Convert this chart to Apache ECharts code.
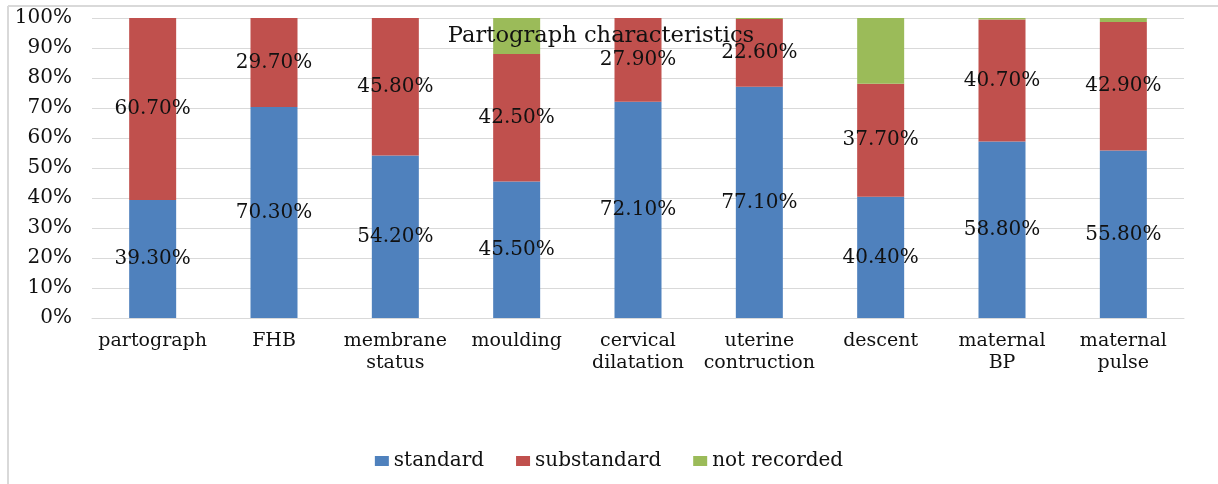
<!DOCTYPE html>
<html>
<head>
<meta charset="utf-8">
<script src="https://cdn.jsdelivr.net/npm/echarts@6/dist/echarts.min.js"></script>
<style>html,body{margin:0;padding:0;background:#fff}#c{width:1218px;height:484px}</style>
</head>
<body>
<div id="c"></div>
<script>
var categories = ['partograph', 'FHB', 'membrane\nstatus', 'moulding', 'cervical\ndilatation', 'uterine\ncontruction', 'descent', 'maternal\nBP', 'maternal\npulse'];
var standard = [39.3, 70.3, 54.2, 45.5, 72.1, 77.1, 40.4, 58.8, 55.8];
var substandard = [60.7, 29.7, 45.8, 42.5, 27.9, 22.6, 37.7, 40.7, 42.9];
var notRecorded = [0, 0, 0, 12.0, 0, 0.3, 21.9, 0.5, 1.3];
var yTicks = { min: 0, max: 100, interval: 10 };

var FONT = 'DejaVu Serif';
var TXT = '#111';
var chart = echarts.init(document.getElementById('c'), null, { renderer: 'canvas' });
function lbl() {
  return {
    show: true, position: 'inside', color: TXT, fontFamily: FONT, fontSize: 20,
    formatter: function (p) { return p.value.toFixed(2) + '%'; }
  };
}
chart.setOption({
  animation: false,
  backgroundColor: '#fff',
  textStyle: { fontFamily: FONT },
  title: {
    text: 'Partograph characteristics', left: 596, top: 20, textAlign: 'center',
    textStyle: { fontFamily: FONT, fontSize: 22.6, fontWeight: 'normal', color: TXT }
  },
  graphic: [
    { type: 'line', shape: { x1: 8, y1: 6, x2: 1218, y2: 6 }, style: { stroke: '#d9d9d9', lineWidth: 2 } },
    { type: 'line', shape: { x1: 8, y1: 6, x2: 8, y2: 484 }, style: { stroke: '#d9d9d9', lineWidth: 2 } }
  ],
  legend: {
    data: ['standard', 'substandard', 'not recorded'], left: 'center', top: 446,
    itemWidth: 14, itemHeight: 10, itemGap: 32, icon: 'rect',
    textStyle: { fontFamily: FONT, fontSize: 20, color: TXT }
  },
  grid: { left: 92, right: 34, top: 18, bottom: 166 },
  xAxis: {
    type: 'category', data: categories,
    axisLine: { show: true, lineStyle: { color: '#d9d9d9' } },
    axisTick: { show: false },
    axisLabel: { fontFamily: FONT, fontSize: 19, color: TXT, margin: 12, lineHeight: 22, interval: 0 }
  },
  yAxis: {
    type: 'value', min: yTicks.min, max: yTicks.max, interval: yTicks.interval,
    axisLine: { show: false }, axisTick: { show: false },
    splitLine: { lineStyle: { color: '#d9d9d9', width: 1 } },
    axisLabel: { fontFamily: FONT, fontSize: 20, color: TXT, margin: 20, formatter: '{value}%' }
  },
  series: [
    { name: 'standard', type: 'bar', stack: 's', data: standard, barWidth: 47, itemStyle: { color: '#4f81bd' }, label: lbl() },
    { name: 'substandard', type: 'bar', stack: 's', data: substandard, barWidth: 47, itemStyle: { color: '#c0504d' }, label: lbl() },
    { name: 'not recorded', type: 'bar', stack: 's', data: notRecorded, barWidth: 47, itemStyle: { color: '#9bbb59' }, label: { show: false } }
  ]
});
</script>
</body>
</html>
